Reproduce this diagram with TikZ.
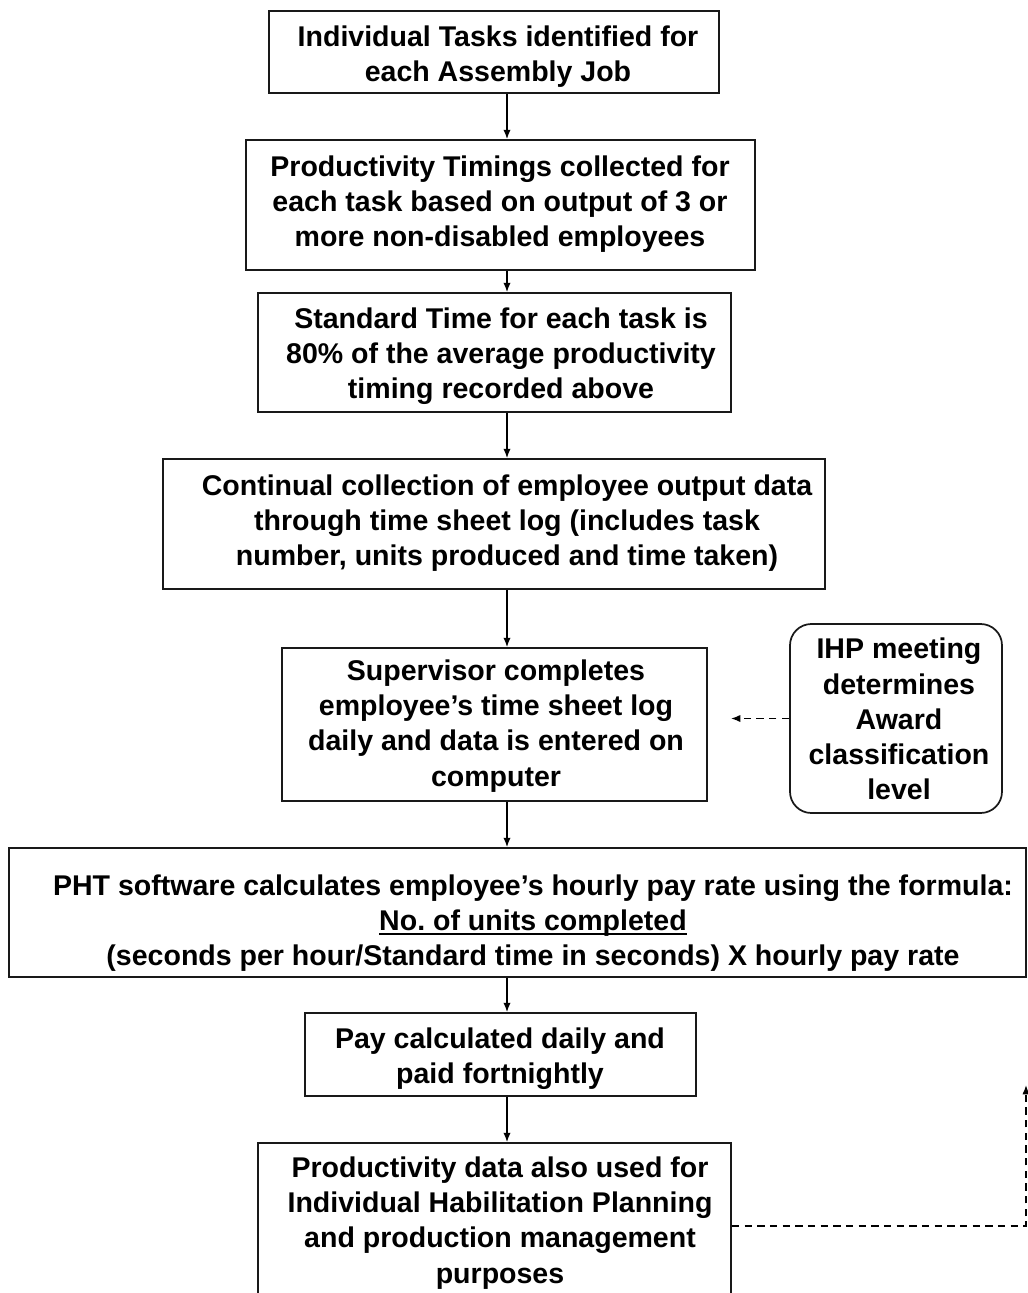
\documentclass[tikz,border=0pt]{standalone}
\usepackage{fontspec}
\setmainfont{Liberation Sans}
\usetikzlibrary{arrows.meta,calc}
\frenchspacing
% underline with a rule of chosen thickness
\newcommand\thickul[1]{\setbox0\hbox{#1}\leavevmode\rlap{\copy0}\raisebox{-3.2pt}{\rule{\wd0}{1.3pt}}}
\begin{document}
\begin{tikzpicture}[x=0.75pt,y=-0.75pt,
  pbox/.style n args={4}{draw=black!90, line width=1.3pt, inner sep=0pt,
    minimum width={(#3-#1)*0.75pt}, minimum height={(#4-#2)*0.75pt},
    at={({(#1+#3)/2},{(#2+#4)/2})}},
  txt/.style={align=center, inner sep=0pt,
    font=\bfseries\fontsize{21.4pt}{26.4pt}\selectfont},
  flow/.style={line width=1.1pt, -{Latex[length=7pt,width=5.5pt]}},
  fb/.style={line width=1.1pt, dash pattern=on 5.5pt off 4pt,
    -{Latex[length=7pt,width=5.5pt]}}]
\useasboundingbox (0,0) rectangle (1028,1293);

% process boxes
\node[pbox={269}{11}{719}{93}] (b1) {};
\node[pbox={246}{140}{755}{270}] (b2) {};
\node[pbox={258}{293}{731}{412}] (b3) {};
\node[pbox={163}{459}{825}{589}] (b4) {};
\node[pbox={282}{648}{707}{801}] (b5) {};
\node[pbox={9}{848}{1026}{977}] (b6) {};
\node[pbox={305}{1013}{696}{1096}] (b7) {};
\node[pbox={258}{1143}{731}{1309}] (b8) {};
\node[pbox={790}{624}{1002}{813}, rounded corners=16pt] (ihp) {};

% box texts
\node[txt] (t1) at (498,57) {Individual Tasks identified for\\each Assembly Job};
\node[txt] (t2) at (500,204) {Productivity Timings collected for\\each task based on output of 3 or\\more non-disabled employees};
\node[txt] (t3) at (501,356) {Standard Time for each task is\\80\% of the average productivity\\timing recorded above};
\node[txt] (t4) at (507,523) {Continual collection of employee output data\\through time sheet log (includes task\\number, units produced and time taken)};
\node[txt] (t5) at (496,726) {Supervisor completes\\employee’s time sheet log\\daily and data is entered on\\computer};
\node[txt] (t6) at (899,719) {IHP meeting\\determines\\Award\\classification\\level};
\node[txt] (t7) at (533,923) {PHT software calculates employee’s hourly pay rate using the formula:\\\thickul{No. of units completed}\\(seconds per hour/Standard time in seconds) X hourly pay rate};
\node[txt] (t8) at (500,1059) {Pay calculated daily and\\paid fortnightly};
\node[txt] (t9) at (500,1223) {Productivity data also used for\\Individual Habilitation Planning\\and production management\\purposes};

% main flow
\coordinate (spine) at (507,0);
\draw[flow] (b1.south -| spine) -- (b2.north -| spine);
\draw[flow] (b2.south -| spine) -- (b3.north -| spine);
\draw[flow] (b3.south -| spine) -- (b4.north -| spine);
\draw[flow] (b4.south -| spine) -- (b5.north -| spine);
\draw[flow] (b5.south -| spine) -- (b6.north -| spine);
\draw[flow] (b6.south -| spine) -- (b7.north -| spine);
\draw[flow] (b7.south -| spine) -- (b8.north -| spine);

% dashed feedback links
\coordinate (ihpTip) at (731,718.5);
\draw[fb] (ihp.west) -- (ihpTip);
\coordinate (fbCorner) at (1026,1226);
\coordinate (fbTip) at (1026,1085);
\draw[fb] (b8.east) -- (fbCorner) -- (fbTip);
\end{tikzpicture}
\end{document}
